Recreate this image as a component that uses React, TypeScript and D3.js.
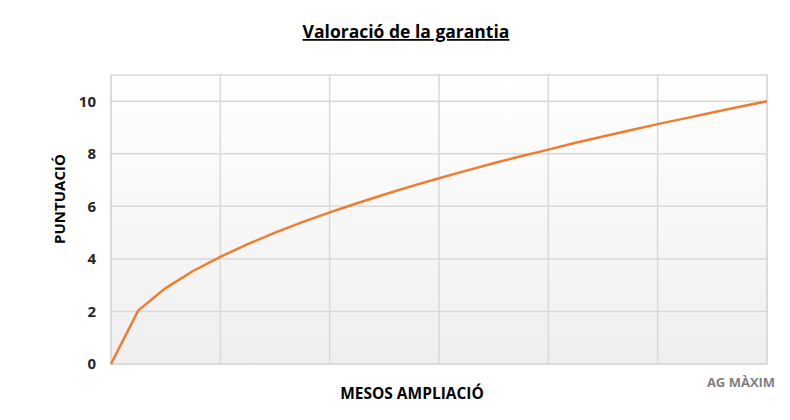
import React, { useEffect, useRef } from 'react';
import * as d3 from 'd3';

// months of extension (0..24) and score
const mesos = [0, 1, 2, 3, 4, 5, 6, 7, 8, 9, 10, 11, 12, 13, 14, 15, 16, 17, 18, 19, 20, 21, 22, 23, 24];
const puntuacio = [0, 2.04, 2.89, 3.54, 4.08, 4.56, 5.0, 5.4, 5.77, 6.12, 6.45, 6.77, 7.07, 7.36, 7.64, 7.91, 8.16, 8.42, 8.66, 8.9, 9.13, 9.35, 9.57, 9.79, 10];
const yTicks = [0, 2, 4, 6, 8, 10];
const xGrid = [0, 4, 8, 12, 16, 20, 24];

const W = 790;
const H = 420;
const margin = { top: 75, right: 23, bottom: 56, left: 111 };
const FONT = "'Open Sans', 'Liberation Sans', sans-serif";

const App = () => {
    const ref = useRef<SVGSVGElement>(null);

    useEffect(() => {
        const svg = d3.select(ref.current);
        svg.selectAll('*').remove();

        const width = W - margin.left - margin.right;
        const height = H - margin.top - margin.bottom;

        const defs = svg.append('defs');
        const grad = defs.append('linearGradient')
            .attr('id', 'bg')
            .attr('x1', 0).attr('y1', 0).attr('x2', 0).attr('y2', 1);
        grad.append('stop').attr('offset', '0%').attr('stop-color', '#ffffff');
        grad.append('stop').attr('offset', '100%').attr('stop-color', '#efefef');

        const g = svg.append('g')
            .attr('transform', `translate(${margin.left},${margin.top})`);

        const x = d3.scaleLinear().domain([0, 24]).range([0, width]);
        const y = d3.scaleLinear().domain([0, 11]).range([height, 0]);

        g.append('rect')
            .attr('width', width)
            .attr('height', height)
            .attr('fill', 'url(#bg)')
            .attr('stroke', '#d9d9d9')
            .attr('stroke-width', 1.5);

        // gridlines
        g.selectAll('.hgrid')
            .data(yTicks)
            .enter().append('line')
            .attr('x1', 0).attr('x2', width)
            .attr('y1', d => y(d)).attr('y2', d => y(d))
            .attr('stroke', '#d9d9d9')
            .attr('stroke-width', 1.5);
        g.selectAll('.vgrid')
            .data(xGrid)
            .enter().append('line')
            .attr('y1', 0).attr('y2', height)
            .attr('x1', d => x(d)).attr('x2', d => x(d))
            .attr('stroke', '#d9d9d9')
            .attr('stroke-width', 1.5);

        // y tick labels
        g.selectAll('.ytick')
            .data(yTicks)
            .enter().append('text')
            .attr('x', -15)
            .attr('y', d => y(d))
            .attr('dy', '0.35em')
            .attr('text-anchor', 'end')
            .attr('font-family', FONT)
            .attr('font-weight', 'bold')
            .attr('font-size', 15)
            .attr('fill', '#262626')
            .text(d => d);

        // line
        const pts = mesos.map((m, i) => [m, puntuacio[i]] as [number, number]);
        g.append('path')
            .datum(pts)
            .attr('fill', 'none')
            .attr('stroke', '#ED7D31')
            .attr('stroke-width', 2.5)
            .attr('stroke-linejoin', 'round')
            .attr('d', d3.line<[number, number]>()
                .x(d => x(d[0]))
                .y(d => y(d[1]))
            );

        // title
        svg.append('text')
            .attr('x', 406)
            .attr('y', 38)
            .attr('text-anchor', 'middle')
            .attr('font-family', FONT)
            .attr('font-weight', 'bold')
            .attr('font-size', 17.5)
            .attr('fill', '#000')
            .attr('text-decoration', 'underline')
            .text('Valoració de la garantia');

        // axis titles
        svg.append('text')
            .attr('transform', `translate(65,199) rotate(-90)`)
            .attr('text-anchor', 'middle')
            .attr('font-family', FONT)
            .attr('font-weight', 'bold')
            .attr('font-size', 15)
            .attr('fill', '#000')
            .text('PUNTUACIÓ');

        svg.append('text')
            .attr('x', 412)
            .attr('y', 399)
            .attr('text-anchor', 'middle')
            .attr('font-family', FONT)
            .attr('font-weight', 'bold')
            .attr('font-size', 15.5)
            .attr('fill', '#000')
            .text('MESOS AMPLIACIÓ');

        svg.append('text')
            .attr('x', 741)
            .attr('y', 387)
            .attr('text-anchor', 'middle')
            .attr('font-family', FONT)
            .attr('font-weight', 'bold')
            .attr('font-size', 13)
            .attr('fill', '#7f7f7f')
            .text('AG MÀXIM');
    }, []);

    return (
        <svg ref={ref} width={W} height={H}
            style={{ position: 'absolute', left: 0, top: 0, background: '#fff' }} />
    );
};

export default App;
